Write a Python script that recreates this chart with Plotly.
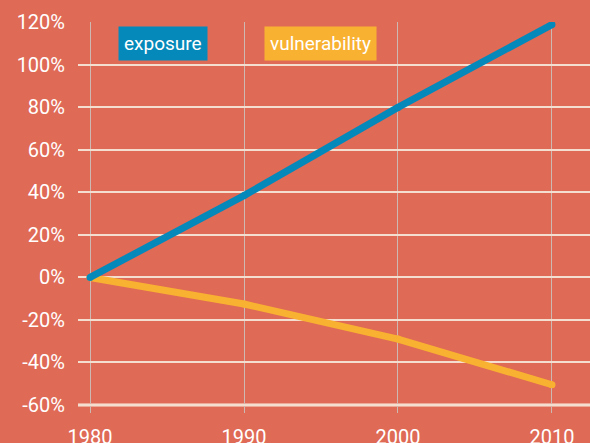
import plotly.graph_objects as go

years = [1980, 1990, 2000, 2010]
exposure = [0, 38.5, 80, 119]
vulnerability = [0, -12.5, -29, -50.5]
y_ticks = [-60, -40, -20, 0, 20, 40, 60, 80, 100, 120]
y_tick_labels = [f"{v}%" for v in y_ticks]
x_ticks = [1980, 1990, 2000, 2010]

BG = "#DF6A56"
BLUE = "#0589BA"
ORANGE = "#F9B131"
FONT = "Roboto, sans-serif"

fig = go.Figure()
fig.add_trace(go.Scatter(x=years, y=vulnerability, mode="lines+markers",
                         line=dict(color=ORANGE, width=7),
                         marker=dict(color=ORANGE, size=7),
                         name="vulnerability", showlegend=False, hoverinfo="skip"))
fig.add_trace(go.Scatter(x=years, y=exposure, mode="lines+markers",
                         line=dict(color=BLUE, width=7),
                         marker=dict(color=BLUE, size=7),
                         name="exposure", showlegend=False, hoverinfo="skip"))

# thicker baseline at -60%
fig.add_shape(type="line", xref="paper", x0=0, x1=1, yref="y", y0=-60, y1=-60,
              line=dict(color="#FBEADB", width=3), layer="below")

fig.add_annotation(x=0.078, y=0.944, xref="paper", yref="paper", text="exposure",
                   showarrow=False, bgcolor=BLUE, font=dict(color="white", size=19, family=FONT),
                   borderpad=5, xanchor="left", yanchor="middle")
fig.add_annotation(x=0.363, y=0.944, xref="paper", yref="paper", text="vulnerability",
                   showarrow=False, bgcolor=ORANGE, font=dict(color="white", size=19, family=FONT),
                   borderpad=5, xanchor="left", yanchor="middle")

fig.update_layout(
    width=590, height=443,
    margin=dict(l=78, r=0, t=22, b=30, autoexpand=False),
    paper_bgcolor=BG, plot_bgcolor=BG,
    font=dict(family=FONT, color="white", size=19),
    xaxis=dict(range=[1979.22, 2012.47], tickvals=x_ticks, ticktext=[str(v) for v in x_ticks],
               showgrid=True, gridcolor="#CDB9B2", gridwidth=1.3, zeroline=False,
               showline=False, ticks="", ticklabelstandoff=10, automargin=False,
               tickfont=dict(size=20, color="white", family=FONT)),
    yaxis=dict(range=[-63.8, 120.2], tickvals=y_ticks, ticktext=y_tick_labels,
               showgrid=True, gridcolor="#F4DED0", gridwidth=2, zeroline=False,
               showline=False, ticks="", ticklabelstandoff=12, automargin=False,
               tickfont=dict(size=20, color="white", family=FONT)),
)

fig.write_html("out.html", config={"displayModeBar": False},
               post_script="document.body.style.margin='0';document.body.style.padding='0';"
                           "document.body.style.overflow='hidden';"
                           "document.body.style.background='" + BG + "';")
